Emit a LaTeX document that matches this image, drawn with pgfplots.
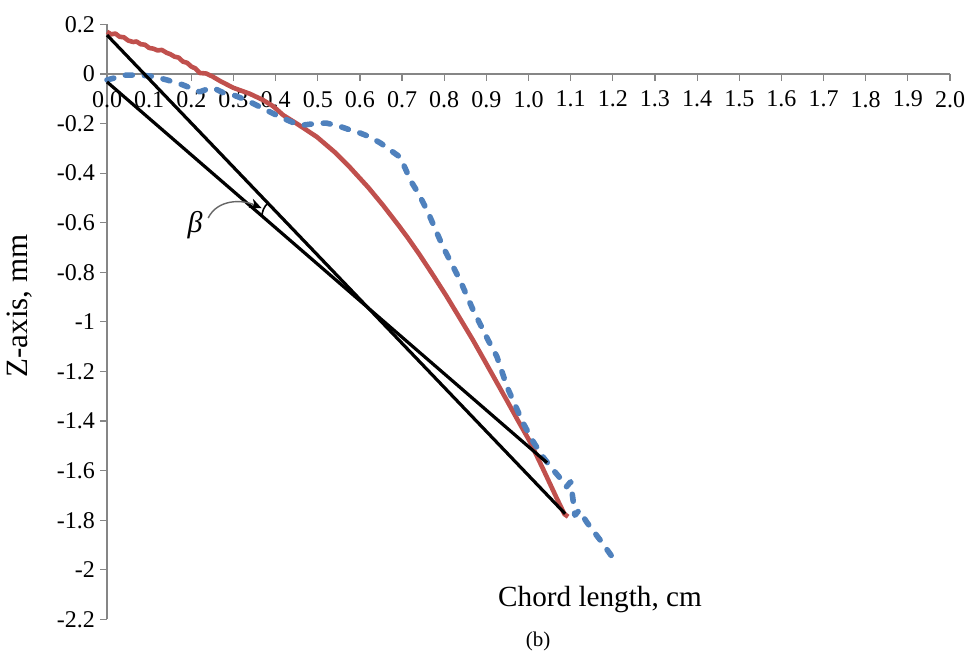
\documentclass[border=0pt]{standalone}
\usepackage{fontspec}
\setmainfont{Liberation Serif}
\usepackage{pgfplots}
\pgfplotsset{compat=1.18}
\usetikzlibrary{arrows.meta}
\definecolor{axisgray}{RGB}{134,134,134}
\definecolor{xlred}{RGB}{192,80,77}
\definecolor{xlblue}{RGB}{79,129,189}
\begin{document}
\begin{tikzpicture}
\begin{axis}[
  scale only axis, width=421.5pt, height=297.5pt,
  xmin=0, xmax=2, ymin=-2.2, ymax=0.2,
  axis x line=middle, axis y line=left,
  axis line style={draw=axisgray, line width=0.6pt, -},
  hide obscured x ticks=false, hide obscured y ticks=false,
  xtick={0,0.1,0.2,0.3,0.4,0.5,0.6,0.7,0.8,0.9,1.0,1.1,1.2,1.3,1.4,1.5,1.6,1.7,1.8,1.9,2.0},
  xticklabels={0.0,0.1,0.2,0.3,0.4,0.5,0.6,0.7,0.8,0.9,1.0,1.1,1.2,1.3,1.4,1.5,1.6,1.7,1.8,1.9,2.0},
  ytick={-2.2,-2,-1.8,-1.6,-1.4,-1.2,-1,-0.8,-0.6,-0.4,-0.2,0,0.2},
  yticklabels={-2.2,-2,-1.8,-1.6,-1.4,-1.2,-1,-0.8,-0.6,-0.4,-0.2,0,0.2},
  tick style={draw=axisgray, line width=0.6pt},
  tick align=outside, major tick length=3.5pt,
  ticklabel style={font=\fontsize{12}{14}\selectfont},
  xticklabel style={yshift=-1.5pt},
  yticklabel style={xshift=1pt},
  clip=false,
]
% red measured profile
\addplot[xlred, line width=2.3pt, line join=round] coordinates {
(0.000,0.170) (0.010,0.160) (0.020,0.163) (0.030,0.150) (0.040,0.148) (0.050,0.135)
(0.062,0.129) (0.070,0.131) (0.080,0.120) (0.090,0.118) (0.100,0.105) (0.110,0.102)
(0.120,0.095) (0.130,0.097) (0.142,0.085) (0.150,0.080) (0.160,0.070) (0.170,0.066)
(0.180,0.050) (0.190,0.045) (0.200,0.030) (0.210,0.022) (0.220,0.004) (0.235,0.002)
(0.250,-0.010) (0.270,-0.030) (0.300,-0.056) (0.339,-0.080) (0.370,-0.105)
(0.394,-0.130) (0.418,-0.166) (0.450,-0.200) (0.498,-0.254) (0.540,-0.315)
(0.577,-0.378) (0.620,-0.458) (0.655,-0.530) (0.690,-0.607) (0.712,-0.657)
(0.740,-0.725) (0.773,-0.810) (0.805,-0.895) (0.837,-0.985) (0.868,-1.073)
(0.892,-1.145) (0.920,-1.230) (0.949,-1.318) (0.975,-1.398) (1.004,-1.485)
(1.035,-1.595) (1.068,-1.715) (1.085,-1.775) (1.094,-1.786)
};
% blue dashed profile
\addplot[xlblue, line width=2.8pt, line cap=round, line join=round, dash pattern=on 3.5pt off 6pt] coordinates {
(0.000,-0.024) (0.020,-0.015) (0.040,-0.005) (0.078,-0.004) (0.110,-0.010)
(0.142,-0.024) (0.180,-0.044) (0.220,-0.072) (0.240,-0.060) (0.252,-0.056)
(0.275,-0.075) (0.300,-0.085) (0.330,-0.105) (0.363,-0.133) (0.410,-0.173)
(0.440,-0.195) (0.465,-0.206) (0.495,-0.200) (0.520,-0.198) (0.550,-0.210)
(0.577,-0.226) (0.600,-0.238) (0.624,-0.254) (0.650,-0.280) (0.671,-0.306)
(0.695,-0.335) (0.710,-0.390) (0.719,-0.427) (0.740,-0.485) (0.762,-0.560)
(0.797,-0.697) (0.837,-0.830) (0.868,-0.950) (0.904,-1.073) (0.925,-1.140)
(0.949,-1.262) (0.987,-1.407) (1.010,-1.480) (1.034,-1.544) (1.055,-1.590)
(1.075,-1.630) (1.090,-1.665) (1.100,-1.645) (1.105,-1.710) (1.110,-1.780)
(1.120,-1.760) (1.139,-1.810) (1.170,-1.880) (1.210,-1.975)
};
% black chord lines
\addplot[black, line width=1.6pt] coordinates {(0,0.157) (1.087,-1.774)};
\addplot[black, line width=1.6pt] coordinates {(0,-0.032) (1.044,-1.568)};
% angle marker and beta
\draw[black, line width=0.8pt] (axis cs:0.3832,-0.5181) .. controls (axis cs:0.372,-0.535) and (axis cs:0.368,-0.555) .. (axis cs:0.3677,-0.5726);
\draw[gray!80!black, line width=0.7pt, -{Stealth[length=6pt,width=5pt,black]}] (axis cs:0.240,-0.581) .. controls (axis cs:0.262,-0.505) and (axis cs:0.320,-0.505) .. (axis cs:0.367,-0.5415);
\node[font=\fontsize{15}{18}\selectfont\itshape] at (axis cs:0.2088,-0.6089) {β};
% labels
\node[anchor=base, font=\fontsize{14.6}{17}\selectfont] at (axis cs:1.1696,-2.149) {Chord length, cm};
\node[anchor=base, font=\fontsize{10.5}{12}\selectfont] at (axis cs:1.0225,-2.310) {(b)};
\node[anchor=base, rotate=90, font=\fontsize{15.5}{18}\selectfont] at (axis cs:-0.1898,-0.9355) {Z-axis, mm};
\coordinate (bl) at (axis cs:-0.2539,-2.3306);
\coordinate (tr) at (axis cs:2.0403,0.2984);
\end{axis}
\pgfresetboundingbox
\path[use as bounding box] (bl) rectangle (tr);
\end{tikzpicture}
\end{document}
